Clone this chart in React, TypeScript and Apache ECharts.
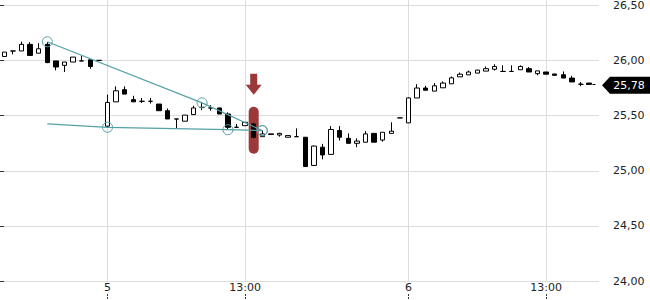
import React, { useEffect, useRef } from 'react';
import * as echarts from 'echarts';

// ---- categories (15-minute bars) ----
const day4Times = ['14:45', '15:00', '15:15', '15:30', '15:45', '16:00', '16:15', '16:30', '16:45', '17:00', '17:15', '17:30'];
const day5Times = [
  '09:00', '09:15', '09:30', '09:45', '10:00', '10:15', '10:30', '10:45', '11:00', '11:15', '11:30', '11:45',
  '12:00', '12:15', '12:30', '12:45', '13:00', '13:15', '13:30', '13:45', '14:00', '14:15', '14:30', '14:45',
  '15:00', '15:15', '15:30', '15:45', '16:00', '16:15', '16:30', '16:45', '17:00', '17:15', '17:30',
];
const day6Times = [
  '09:00', '09:15', '09:30', '09:45', '10:00', '10:15', '10:30', '10:45', '11:00', '11:15', '11:30', '11:45',
  '12:00', '12:15', '12:30', '12:45', '13:00', '13:15', '13:30', '13:45', '14:00', '14:15', '14:30',
];
const labeledTicks = ['5 09:00', '5 13:00', '6 09:00', '6 13:00'];

// ---- candles: [open, close, low, high] ----
const day4Candles = [
  [26.03, 26.07, 26.03, 26.07],
  [26.08, 26.08, 26.05, 26.08],
  [26.08, 26.14, 26.08, 26.165],
  [26.14, 26.04, 26.04, 26.16],
  [26.06, 26.1, 26.06, 26.15],
  [26.14, 25.975, 25.97, 26.16],
  [25.99, 25.935, 25.905, 25.99],
  [25.95, 25.98, 25.89, 25.98],
  [25.98, 26.025, 25.98, 26.025],
  [25.99, 25.99, 25.99, 26.035],
  [26.0, 25.94, 25.92, 26.0],
  [25.995, 25.995, 25.995, 25.995],
];
const day5Candles = [
  [25.4, 25.615, 25.385, 25.685],
  [25.62, 25.72, 25.62, 25.76],
  [25.73, 25.69, 25.69, 25.76],
  [25.64, 25.62, 25.62, 25.675],
  [25.625, 25.625, 25.61, 25.655],
  [25.625, 25.625, 25.605, 25.655],
  [25.6, 25.54, 25.54, 25.6],
  [25.54, 25.465, 25.465, 25.56],
  [25.465, 25.465, 25.38, 25.465],
  [25.445, 25.5, 25.445, 25.5],
  [25.505, 25.565, 25.505, 25.585],
  [25.57, 25.57, 25.545, 25.61],
  [25.565, 25.565, 25.54, 25.59],
  [25.565, 25.51, 25.51, 25.565],
  [25.51, 25.39, 25.37, 25.525],
  [25.39, 25.39, 25.39, 25.42],
  [25.405, 25.435, 25.405, 25.435],
  [25.42, 25.3, 25.29, 25.43],
  [25.305, 25.33, 25.305, 25.36],
  [25.33, 25.325, 25.325, 25.33],
  [25.32, 25.335, 25.305, 25.34],
  [25.3, 25.315, 25.3, 25.315],
  [25.305, 25.305, 25.305, 25.38],
  [25.3, 25.035, 25.035, 25.3],
  [25.045, 25.22, 25.04, 25.225],
  [25.21, 25.14, 25.1, 25.24],
  [25.145, 25.37, 25.145, 25.4],
  [25.36, 25.3, 25.27, 25.4],
  [25.29, 25.245, 25.245, 25.335],
  [25.245, 25.265, 25.21, 25.29],
  [25.255, 25.33, 25.255, 25.355],
  [25.335, 25.255, 25.255, 25.335],
  [25.275, 25.345, 25.26, 25.345],
  [25.335, 25.355, 25.335, 25.435],
  [25.475, 25.475, 25.475, 25.475],
];
const day6Candles = [
  [25.43, 25.655, 25.43, 25.66],
  [25.655, 25.745, 25.655, 25.78],
  [25.745, 25.725, 25.725, 25.765],
  [25.717, 25.765, 25.717, 25.79],
  [25.747, 25.79, 25.747, 25.805],
  [25.783, 25.837, 25.783, 25.85],
  [25.846, 25.87, 25.846, 25.885],
  [25.864, 25.89, 25.864, 25.903],
  [25.88, 25.907, 25.88, 25.91],
  [25.898, 25.92, 25.898, 25.94],
  [25.915, 25.94, 25.903, 25.96],
  [25.895, 25.895, 25.895, 25.95],
  [25.895, 25.895, 25.895, 25.95],
  [25.91, 25.94, 25.91, 25.95],
  [25.92, 25.89, 25.89, 25.935],
  [25.875, 25.9, 25.86, 25.9],
  [25.89, 25.87, 25.87, 25.89],
  [25.872, 25.86, 25.855, 25.872],
  [25.865, 25.835, 25.835, 25.895],
  [25.835, 25.8, 25.8, 25.855],
  [25.78, 25.78, 25.762, 25.8],
  [25.79, 25.778, 25.778, 25.79],
];

// ---- annotations ----
const upperTrend = [[5, 26.163], [23, 25.611], [30, 25.36]];
const upperCircles = [5, 23, 30];
const lowerTrend = [[5, 25.42], [12, 25.39], [26, 25.368], [30, 25.36]];
const lowerCircles = [12, 26, 30];
const signalBar = [29, 25.575, 25.15]; // index, top price, bottom price
const signalArrow = [29, 25.873, 25.684];
const lastPrice = 25.78;
const lastPriceFrom = 67;

const yMin = 24;
const yMax = 26.5;
const yStep = 0.5;

export default function App() {
  const ref = useRef<HTMLDivElement>(null);
  useEffect(() => {
    const chart = echarts.init(ref.current as HTMLDivElement, null, { renderer: 'svg' });
    const categories = [
      ...day4Times.map((t) => '4 ' + t),
      ...day5Times.map((t) => '5 ' + t),
      ...day6Times.map((t) => '6 ' + t),
    ];
    const candles = [...day4Candles, ...day5Candles, ...day6Candles];
    const font = 'DejaVu Sans';
    const teal = '#55a0a6';
    const red = '#9b3838';
    const fmt = (v: number) => v.toFixed(2).replace('.', ',');
    const markFn = (_i: number, v: string) => labeledTicks.includes(v);
    const trend = (pts: number[][], circles: number[]) =>
      pts.map(([x, y]) => ({ value: [x, y], symbol: circles.includes(x) ? 'circle' : 'none' }));
    const lastIdx = categories.length - 1;

    chart.setOption({
      animation: false,
      backgroundColor: '#fff',
      grid: [
        { left: 0, width: 602, top: 0, bottom: 19 },
        { left: 0, width: 599, top: 4.5, bottom: 19 },
      ],
      xAxis: [
        {
          type: 'category',
          gridIndex: 0,
          data: categories,
          boundaryGap: true,
          axisLine: { show: false },
          axisTick: { show: false },
          axisLabel: { show: false },
          splitLine: { show: true, alignWithLabel: true, interval: markFn, lineStyle: { color: '#dcdcdc', width: 1 } },
        },
        {
          type: 'category',
          gridIndex: 0,
          data: categories,
          position: 'bottom',
          offset: 18,
          axisLine: { show: false, onZero: false },
          axisTick: {
            show: true,
            inside: true,
            length: 6,
            alignWithLabel: true,
            interval: markFn,
            lineStyle: { color: '#333', type: [2, 1] },
          },
          axisLabel: {
            show: true,
            inside: true,
            margin: 6,
            interval: markFn,
            color: '#222',
            fontSize: 11,
            fontFamily: font,
            formatter: (v: string) => {
              const [d, t] = v.split(' ');
              return t === '09:00' ? d : t;
            },
          },
          splitLine: { show: false },
        },
        { type: 'value', gridIndex: 1, show: false, min: 0, max: 1 },
      ],
      yAxis: [
        { type: 'value', gridIndex: 0, show: false, min: yMin, max: 26.541, splitLine: { show: false } },
        {
          type: 'value',
          gridIndex: 1,
          position: 'right',
          offset: 3,
          min: yMin,
          max: yMax,
          interval: yStep,
          axisLine: { show: false },
          axisTick: { show: true, length: 4, lineStyle: { color: '#333' } },
          axisLabel: { margin: 11, color: '#222', fontSize: 11, fontFamily: font, formatter: fmt },
          splitLine: { show: true, lineStyle: { color: '#dcdcdc', width: 1 } },
        },
      ],
      series: [
        {
          type: 'custom',
          xAxisIndex: 0,
          yAxisIndex: 0,
          z: 1,
          silent: true,
          data: [signalBar],
          renderItem: (_p: any, api: any) => {
            const top = api.coord([api.value(0), api.value(1)]);
            const bot = api.coord([api.value(0), api.value(2)]);
            return {
              type: 'rect',
              shape: { x: top[0] - 5, y: top[1], width: 10, height: bot[1] - top[1], r: 5 },
              style: { fill: red },
            };
          },
        },
        {
          type: 'candlestick',
          xAxisIndex: 0,
          yAxisIndex: 0,
          z: 2,
          silent: true,
          data: candles,
          barWidth: 5,
          itemStyle: { color: '#fff', color0: '#000', borderColor: '#000', borderColor0: '#000', borderWidth: 1 },
          markLine: {
            silent: true,
            symbol: ['none', 'none'],
            label: { show: false },
            lineStyle: { color: '#000', type: [3, 3], width: 1 },
            data: [[{ coord: [lastPriceFrom, lastPrice] }, { coord: [lastIdx, lastPrice] }]],
          },
          markPoint: {
            silent: true,
            data: [
              {
                coord: [lastIdx, lastPrice],
                symbol: 'path://M0,8.5L8,0L48,0L48,17L8,17Z',
                symbolSize: [48, 17],
                symbolOffset: [28.3, 1],
                itemStyle: { color: '#000' },
                label: {
                  show: true,
                  position: 'inside',
                  offset: [3, 0],
                  color: '#fff',
                  fontSize: 11,
                  fontFamily: font,
                  formatter: () => fmt(lastPrice),
                },
              },
            ],
          },
        },
        {
          type: 'line',
          xAxisIndex: 0,
          yAxisIndex: 0,
          z: 3,
          silent: true,
          showAllSymbol: true,
          symbolSize: 10,
          data: trend(upperTrend, upperCircles),
          lineStyle: { color: teal, width: 1.2 },
          itemStyle: { color: 'rgba(0,0,0,0)', borderColor: teal, borderWidth: 1 },
        },
        {
          type: 'line',
          xAxisIndex: 0,
          yAxisIndex: 0,
          z: 3,
          silent: true,
          showAllSymbol: true,
          symbolSize: 10,
          data: trend(lowerTrend, lowerCircles),
          lineStyle: { color: teal, width: 1.2 },
          itemStyle: { color: 'rgba(0,0,0,0)', borderColor: teal, borderWidth: 1 },
        },
        {
          type: 'custom',
          xAxisIndex: 0,
          yAxisIndex: 0,
          z: 3,
          silent: true,
          data: [signalArrow],
          renderItem: (_p: any, api: any) => {
            const t = api.coord([api.value(0), api.value(1)]);
            const b = api.coord([api.value(0), api.value(2)]);
            const x = t[0];
            const hb = b[1] - 10;
            return {
              type: 'polygon',
              shape: {
                points: [
                  [x - 3.5, t[1]],
                  [x + 3.5, t[1]],
                  [x + 3.5, hb],
                  [x + 8, hb],
                  [x, b[1]],
                  [x - 8, hb],
                  [x - 3.5, hb],
                ],
              },
              style: { fill: red },
            };
          },
        },
      ],
    });
    return () => chart.dispose();
  }, []);
  return (
    <div
      ref={ref}
      style={{ position: 'fixed', left: 0, top: 0, width: 650, height: 300, background: '#fff' }}
    />
  );
}
